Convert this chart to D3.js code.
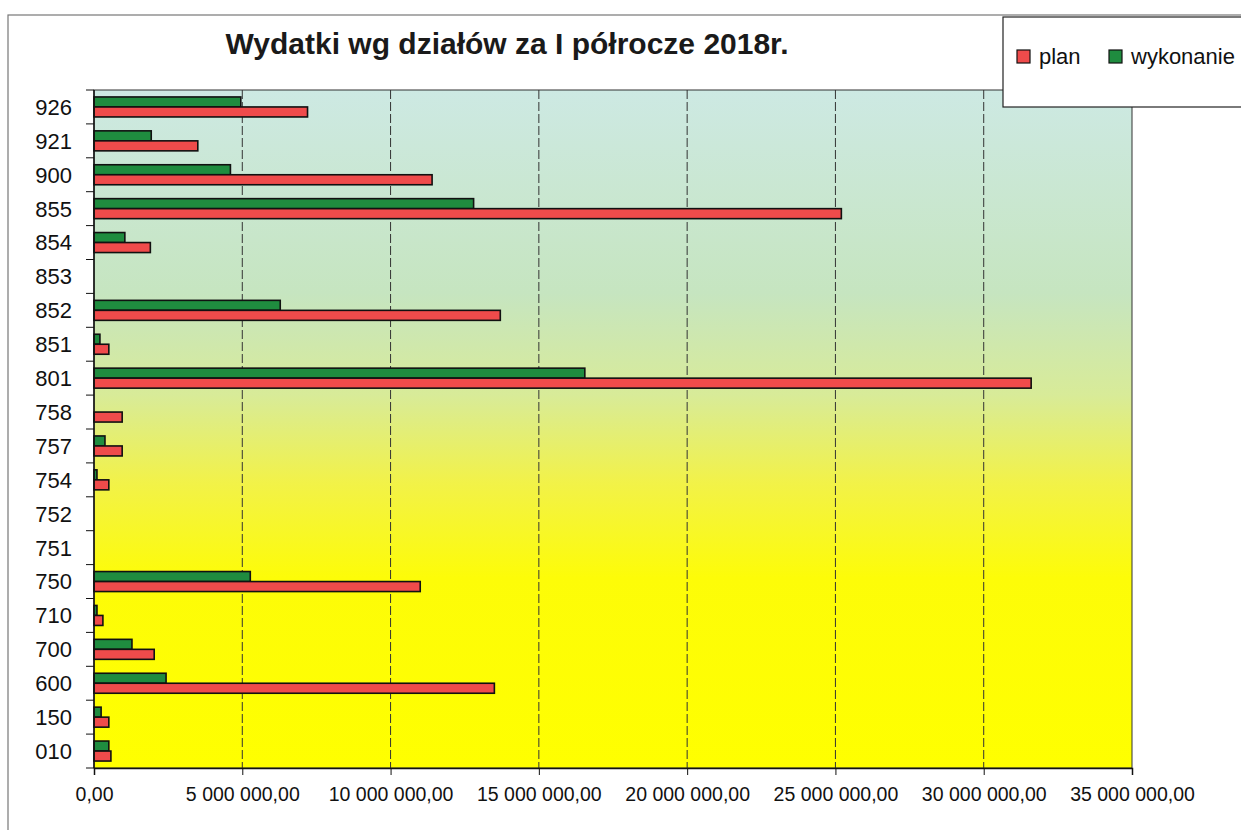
<!DOCTYPE html>
<html>
<head>
<meta charset="utf-8">
<script src="https://cdn.jsdelivr.net/npm/d3@7"></script>
<style>
  body { margin: 0; background: #fff; }
  svg { display: block; font-family: "Liberation Sans", Arial, sans-serif; }
</style>
</head>
<body>
<svg id="chart" width="1241" height="830"></svg>
<script>
// działy budżetu, od góry wykresu
var categories = ["926","921","900","855","854","853","852","851","801","758",
                  "757","754","752","751","750","710","700","600","150","010"];
// wartości (zł)
var plan       = [7200000, 3500000, 11400000, 25200000, 1900000, 0, 13700000, 500000, 31600000, 950000,
                  950000, 500000, 0, 0, 11000000, 300000, 2030000, 13500000, 500000, 570000];
var wykonanie  = [4950000, 1930000, 4600000, 12800000, 1040000, 0, 6280000, 200000, 16550000, 0,
                  370000, 100000, 0, 0, 5270000, 100000, 1280000, 2430000, 240000, 500000];
var xTicks = [0, 5000000, 10000000, 15000000, 20000000, 25000000, 30000000, 35000000];
var series = [
  { key: "wykonanie", values: wykonanie, color: "#1f8c3f" },
  { key: "plan",      values: plan,      color: "#ef4b4b" }
];

var svg = d3.select("#chart");
var m = { left: 94, right: 1132, top: 90, bottom: 768 };

var locale = d3.formatLocale({ decimal: ",", thousands: "\u00a0", grouping: [3], currency: ["", ""] });
var fmt = locale.format(",.2f");

var x = d3.scaleLinear().domain([0, 35000000]).range([m.left, m.right]);
var y = d3.scaleBand().domain(categories).range([m.top, m.bottom])
  .paddingInner(0.41).paddingOuter(0.205);
var ySub = d3.scaleBand().domain(series.map(function(s) { return s.key; }))
  .range([0, y.bandwidth()]);

// gradient tła obszaru wykresu
var defs = svg.append("defs");
var grad = defs.append("linearGradient").attr("id", "bg")
  .attr("x1", 0).attr("y1", 0).attr("x2", 0).attr("y2", 1);
[[0, "#cde9e3"], [0.3, "#c6e5c0"], [0.45, "#d8eb98"], [0.58, "#f2f248"],
 [0.72, "#fdfc08"], [1, "#ffff00"]].forEach(function(s) {
  grad.append("stop").attr("offset", s[0]).attr("stop-color", s[1]);
});

// ramka całego wykresu
svg.append("rect")
  .attr("x", 8).attr("y", 15).attr("width", 1400).attr("height", 1000)
  .attr("fill", "none").attr("stroke", "#777").attr("stroke-width", 1.2);

svg.append("rect")
  .attr("x", m.left).attr("y", m.top)
  .attr("width", m.right - m.left).attr("height", m.bottom - m.top)
  .attr("fill", "url(#bg)").attr("stroke", "#333").attr("stroke-width", 1);

// linie siatki
svg.append("g").selectAll("line")
  .data(xTicks.slice(1, -1))
  .enter().append("line")
    .attr("x1", function(d) { return x(d); }).attr("x2", function(d) { return x(d); })
    .attr("y1", m.top).attr("y2", m.bottom)
    .attr("stroke", "#333").attr("stroke-width", 1)
    .attr("stroke-dasharray", "9,3");

// słupki
var groups = svg.append("g").selectAll("g")
  .data(categories)
  .enter().append("g")
    .attr("transform", function(d) { return "translate(0," + y(d) + ")"; });

groups.selectAll("rect")
  .data(function(c, i) {
    return series.map(function(s) { return { key: s.key, v: s.values[i], color: s.color }; })
      .filter(function(d) { return d.v > 0; });
  })
  .enter().append("rect")
    .attr("x", x(0))
    .attr("y", function(d) { return ySub(d.key); })
    .attr("width", function(d) { return x(d.v) - x(0); })
    .attr("height", ySub.bandwidth())
    .attr("fill", function(d) { return d.color; })
    .attr("stroke", "#111").attr("stroke-width", 1.6);

// oś X
var xAxis = svg.append("g")
  .attr("transform", "translate(0," + m.bottom + ")")
  .call(d3.axisBottom(x).tickValues(xTicks).tickFormat(fmt).tickSize(7).tickPadding(12));
xAxis.select(".domain").attr("stroke", "#111").attr("stroke-width", 1.5);
xAxis.selectAll(".tick line").attr("stroke", "#111");
xAxis.selectAll("text").attr("font-size", 19.5).attr("fill", "#111")
  .attr("font-family", "\"Liberation Sans\", Arial, sans-serif");

// oś Y
var step = y.step();
var bounds = categories.map(function(c) { return y(c) - step * 0.205; }).concat([m.bottom]);
svg.append("line")
  .attr("x1", m.left).attr("x2", m.left).attr("y1", m.top).attr("y2", m.bottom)
  .attr("stroke", "#111").attr("stroke-width", 1.5);
svg.append("g").selectAll("line")
  .data(bounds)
  .enter().append("line")
    .attr("x1", m.left - 8).attr("x2", m.left)
    .attr("y1", function(d) { return d; }).attr("y2", function(d) { return d; })
    .attr("stroke", "#111");
svg.append("g").selectAll("text")
  .data(categories)
  .enter().append("text")
    .attr("x", 72)
    .attr("y", function(d) { return y(d) + y.bandwidth() / 2; })
    .attr("dy", "0.36em")
    .attr("text-anchor", "end")
    .attr("font-size", 22).attr("fill", "#111")
    .text(function(d) { return d; });

// tytuł
svg.append("text")
  .attr("x", 507).attr("y", 54)
  .attr("text-anchor", "middle")
  .attr("font-size", 30).attr("font-weight", "bold").attr("fill", "#1a1a1a")
  .text("Wydatki wg działów za I półrocze 2018r.");

// legenda
var legend = svg.append("g");
legend.append("rect")
  .attr("x", 1003).attr("y", 17).attr("width", 260).attr("height", 90)
  .attr("fill", "#fff").attr("stroke", "#222").attr("stroke-width", 1.2);
var legendItems = [
  { label: "plan", color: "#ef4b4b", x: 1017, tx: 1039 },
  { label: "wykonanie", color: "#1f8c3f", x: 1109, tx: 1131 }
];
legendItems.forEach(function(l) {
  legend.append("rect")
    .attr("x", l.x).attr("y", 50).attr("width", 13).attr("height", 13)
    .attr("fill", l.color).attr("stroke", "#111").attr("stroke-width", 1.2);
  legend.append("text")
    .attr("x", l.tx).attr("y", 64)
    .attr("font-size", 22).attr("fill", "#111")
    .text(l.label);
});
</script>
</body>
</html>
